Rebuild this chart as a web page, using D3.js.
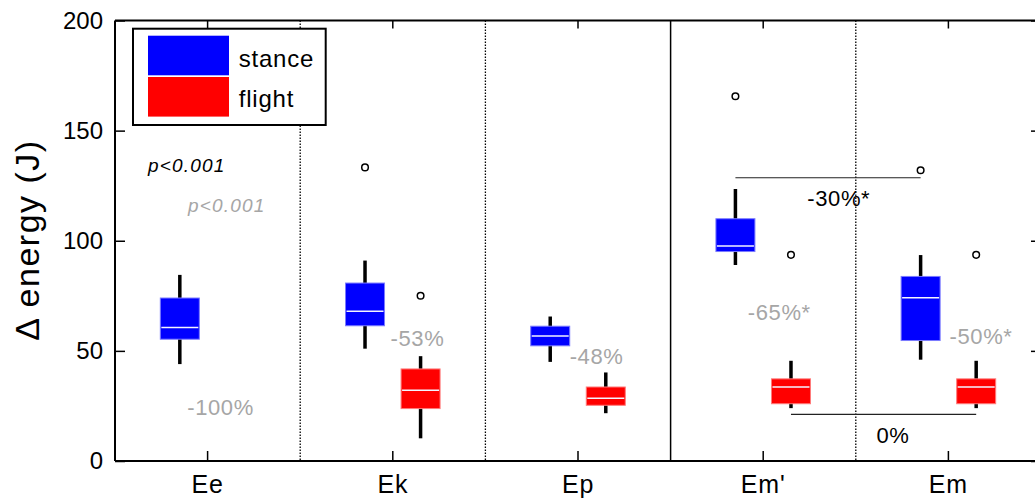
<!DOCTYPE html>
<html>
<head>
<meta charset="utf-8">
<style>
body { margin: 0; background: #fff; }
svg { font-family: "Liberation Sans", Arial, sans-serif; }
.axis path { display: none; }
.axis line { stroke: #000; stroke-width: 1.5px; }
</style>
</head>
<body>
<script src="https://cdn.jsdelivr.net/npm/d3@7"></script>
<script>

// categories and y ticks
var categories = ["Ee", "Ek", "Ep", "Em'", "Em"];
var yTicks = [0, 50, 100, 150, 200];
var seriesNames = ["stance", "flight"];
var seriesColors = ["#0000ff", "#ff0000"];

// box stats (null = no box)
var stanceLow  = [44, 51, 45, 89, 46];
var stanceQ1   = [55.3, 61.4, 52.3, 95.1, 54.7];
var stanceMed  = [60.6, 68, 56.8, 97.6, 74.1];
var stanceQ3   = [74, 80.8, 61.2, 110, 83.8];
var stanceHigh = [84.5, 91, 65.6, 123.5, 93.5];
var stanceOut  = [null, 133.3, null, 165.6, 132];

var flightLow  = [null, 10.3, 21.7, 24, 24];
var flightQ1   = [null, 23.8, 25.3, 26, 26];
var flightMed  = [null, 32.1, 28.5, 33.6, 33.6];
var flightQ3   = [null, 41.8, 33.6, 37.3, 37.3];
var flightHigh = [null, 47.6, 40.2, 45.5, 45.5];
var flightOut  = [null, 75, null, 93.6, 93.6];

// change labels (flight vs stance)
var changeLabels = ["-100%", "-53%", "-48%", "-65%*", "-50%*"];
var pLabel = "p<0.001";

var width = 1035, height = 498;
var pLeft = 115, pRight = 1041, pTop = 20.5, pBottom = 461;

var svg = d3.select("body").append("svg")
    .attr("width", width)
    .attr("height", height);

var x = d3.scaleBand().domain(categories).range([pLeft, pRight]).paddingInner(0).paddingOuter(0);
var xPos = d3.scaleLinear().domain([0, 5]).range([pLeft, pRight]);
var y = d3.scaleLinear().domain([0, 200]).range([pBottom, pTop]);
var bw = x.bandwidth();

function series(i) {
  return i == 0
    ? {low: stanceLow, q1: stanceQ1, med: stanceMed, q3: stanceQ3, high: stanceHigh, out: stanceOut, off: -0.15}
    : {low: flightLow, q1: flightQ1, med: flightMed, q3: flightQ3, high: flightHigh, out: flightOut, off: 0.15};
}

// separators
[1, 2, 4].forEach(function(k) {
  svg.append("line")
      .attr("x1", xPos(k)).attr("x2", xPos(k))
      .attr("y1", pTop).attr("y2", pBottom)
      .attr("stroke", "#000").attr("stroke-width", 1.3)
      .attr("stroke-dasharray", "1.5,1.5");
});
svg.append("line")
    .attr("x1", xPos(3)).attr("x2", xPos(3))
    .attr("y1", pTop).attr("y2", pBottom)
    .attr("stroke", "#000").attr("stroke-width", 1.5);

// boxes
var boxW = 39;
[0, 1].forEach(function(s) {
  var d = series(s);
  var g = svg.append("g");
  categories.forEach(function(c, i) {
    if (d.q1[i] == null) return;
    var cx = x(c) + bw / 2 + d.off * bw;
    g.append("line")
        .attr("x1", cx).attr("x2", cx)
        .attr("y1", y(d.low[i])).attr("y2", y(d.high[i]))
        .attr("stroke", "#000").attr("stroke-width", 3.5);
    g.append("rect")
        .attr("x", cx - boxW / 2)
        .attr("y", y(d.q3[i]))
        .attr("width", boxW)
        .attr("height", y(d.q1[i]) - y(d.q3[i]))
        .attr("fill", seriesColors[s])
        .attr("stroke", s == 0 ? "#7b7bff" : "#ff7b7b")
        .attr("stroke-width", 1);
    g.append("line")
        .attr("x1", cx - boxW / 2 + 1).attr("x2", cx + boxW / 2 - 1)
        .attr("y1", y(d.med[i])).attr("y2", y(d.med[i]))
        .attr("stroke", "#f4f4ff").attr("stroke-width", 1.5);
    if (d.out[i] != null) {
      g.append("circle")
          .attr("cx", cx).attr("cy", y(d.out[i]))
          .attr("r", 3.3)
          .attr("fill", "#fff").attr("stroke", "#000").attr("stroke-width", 1.5);
    }
  });
});

// comparison lines between Em' and Em
function bracket(i, j, s, v) {
  var d = series(s);
  svg.append("line")
      .attr("x1", x(categories[i]) + bw / 2 + d.off * bw)
      .attr("x2", x(categories[j]) + bw / 2 + d.off * bw)
      .attr("y1", y(v)).attr("y2", y(v))
      .attr("stroke", "#222").attr("stroke-width", 1.2);
}
bracket(3, 4, 0, 128.6);
bracket(3, 4, 1, 21.2);

// annotations
var pctPos = [[0.57, 20.9], [1.633, 52.3], [2.60, 44], [3.587, 64], [4.676, 53]];
changeLabels.forEach(function(t, i) {
  svg.append("text")
      .attr("x", xPos(pctPos[i][0]))
      .attr("y", y(pctPos[i][1]))
      .attr("text-anchor", "middle")
      .attr("font-size", 22)
      .attr("letter-spacing", 0.6)
      .attr("fill", "#a6a6a6")
      .text(t);
});
svg.append("text")
    .attr("x", xPos(3.908)).attr("y", y(115.6))
    .attr("text-anchor", "middle")
    .attr("font-size", 22).attr("letter-spacing", 0.6)
    .attr("fill", "#000")
    .text("-30%*");
svg.append("text")
    .attr("x", xPos(4.201)).attr("y", y(8.3))
    .attr("text-anchor", "middle")
    .attr("font-size", 22).attr("letter-spacing", 0.6)
    .attr("fill", "#000")
    .text("0%");
svg.append("text")
    .attr("x", xPos(0.178)).attr("y", y(131))
    .attr("font-size", 19).attr("font-style", "italic").attr("letter-spacing", 1.2)
    .attr("fill", "#000")
    .text(pLabel);
svg.append("text")
    .attr("x", xPos(0.394)).attr("y", y(113.2))
    .attr("font-size", 19).attr("font-style", "italic").attr("letter-spacing", 1.2)
    .attr("fill", "#a6a6a6")
    .text(pLabel);

// axes
var yAxis = d3.axisLeft(y).tickValues(yTicks).tickSizeInner(-10).tickSizeOuter(0).tickPadding(12);
var gy = svg.append("g").attr("class", "axis").attr("transform", "translate(" + pLeft + ",0)").call(yAxis);
gy.selectAll("text").attr("font-size", 24).attr("fill", "#000").attr("font-family", null);

svg.append("g").attr("class", "axis")
    .attr("transform", "translate(" + pRight + ",0)")
    .call(d3.axisRight(y).tickValues(yTicks).tickSizeInner(-10).tickSizeOuter(0).tickFormat(""));

var xAxis = d3.axisBottom(x).tickSizeInner(-10).tickSizeOuter(0).tickPadding(14);
var gx = svg.append("g").attr("class", "axis").attr("transform", "translate(0," + pBottom + ")").call(xAxis);
gx.selectAll("text").attr("font-size", 25).attr("fill", "#000").attr("font-family", null).attr("letter-spacing", 0.8);

svg.append("g").attr("class", "axis")
    .attr("transform", "translate(0," + pTop + ")")
    .call(d3.axisTop(x).tickSizeInner(-8).tickSizeOuter(0).tickFormat(""));

// frame lines
svg.append("line").attr("x1", pLeft).attr("x2", width).attr("y1", pBottom).attr("y2", pBottom)
    .attr("stroke", "#000").attr("stroke-width", 2);
svg.append("line").attr("x1", pLeft).attr("x2", width).attr("y1", pTop).attr("y2", pTop)
    .attr("stroke", "#000").attr("stroke-width", 2);
svg.append("line").attr("x1", pLeft).attr("x2", pLeft).attr("y1", pTop).attr("y2", pBottom)
    .attr("stroke", "#000").attr("stroke-width", 2);

// y label
svg.append("text")
    .attr("transform", "translate(39,240) rotate(-90)")
    .attr("text-anchor", "middle")
    .attr("font-size", 34)
    .attr("letter-spacing", 1.5)
    .text("\u0394 energy (J)");

// legend
var lg = svg.append("g");
lg.append("rect")
    .attr("x", 133).attr("y", 28.7).attr("width", 192.7).attr("height", 96.3)
    .attr("fill", "#fff").attr("stroke", "#000").attr("stroke-width", 2);
seriesNames.forEach(function(n, i) {
  lg.append("rect")
      .attr("x", 148).attr("y", 35.7 + i * 41.3)
      .attr("width", 81).attr("height", 39.6)
      .attr("fill", seriesColors[i]);
  lg.append("text")
      .attr("x", 238.7).attr("y", 67.3 + i * 39.4)
      .attr("font-size", 24).attr("letter-spacing", 0.8)
      .text(n);
});

</script>
</body>
</html>
